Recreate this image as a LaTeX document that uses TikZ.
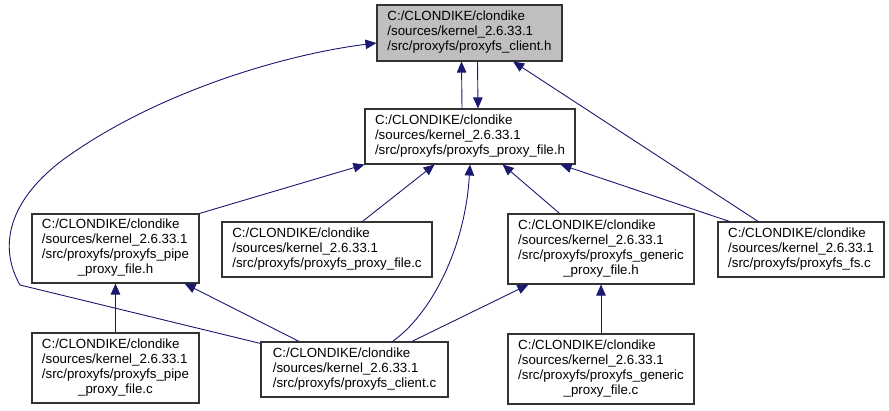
\documentclass[tikz,border=0pt]{standalone}
\usepackage{fontspec}
\setmainfont{Liberation Sans}
\usetikzlibrary{arrows.meta}
\definecolor{edgeblue}{HTML}{191970}
\definecolor{rootgray}{HTML}{BFBFBF}
\newcommand{\kdir}{C:/CLONDIKE/clondike\\/sources/kernel\_2.6.33.1\\/src/proxyfs/}
\newcommand{\lastline}[1]{\\\multicolumn{1}{@{}c@{}}{#1}}

\begin{document}
\begin{tikzpicture}[
  x=1pt, y=-1pt,
  file/.style={rectangle, draw=black!80, line width=1.1pt, fill=white, inner sep=0pt,
    font=\fontsize{13.3}{15}\selectfont},
  root/.style={file, fill=rootgray},
  dep/.style={-{Triangle[length=11pt,width=9.5pt]}, edgeblue, line width=0.9pt},
]
  \useasboundingbox (0,0) rectangle (889,411);

  % headers
  \node[root, minimum width=185pt, minimum height=56pt] (ch) at (469.5,33)
    {\begin{tabular}{@{}l@{}}\kdir proxyfs\_client.h\end{tabular}};
  \node[file, minimum width=210pt, minimum height=55pt] (pfh) at (470,136.5)
    {\begin{tabular}{@{}l@{}}\kdir proxyfs\_proxy\_file.h\end{tabular}};
  \node[file, minimum width=167pt, minimum height=69pt] (pipeh) at (115.5,248.5)
    {\begin{tabular}{@{}l@{}}\kdir proxyfs\_pipe\lastline{\_proxy\_file.h}\end{tabular}};
  \node[file, minimum width=186pt, minimum height=70pt] (genh) at (601,249)
    {\begin{tabular}{@{}l@{}}\kdir proxyfs\_generic\lastline{\_proxy\_file.h}\end{tabular}};

  % sources
  \node[file, minimum width=210pt, minimum height=55pt] (pfc) at (327,249.5)
    {\begin{tabular}{@{}l@{}}\kdir proxyfs\_proxy\_file.c\end{tabular}};
  \node[file, minimum width=166pt, minimum height=55pt] (fsc) at (801,249.5)
    {\begin{tabular}{@{}l@{}}\kdir proxyfs\_fs.c\end{tabular}};
  \node[file, minimum width=167pt, minimum height=70pt] (pipec) at (115.5,368)
    {\begin{tabular}{@{}l@{}}\kdir proxyfs\_pipe\lastline{\_proxy\_file.c}\end{tabular}};
  \node[file, minimum width=187pt, minimum height=55pt] (cc) at (354.5,369.5)
    {\begin{tabular}{@{}l@{}}\kdir proxyfs\_client.c\end{tabular}};
  \node[file, minimum width=186pt, minimum height=70pt] (genc) at (601,369)
    {\begin{tabular}{@{}l@{}}\kdir proxyfs\_generic\lastline{\_proxy\_file.c}\end{tabular}};

  \coordinate (lbend) at (20,285);

  % include edges
  \draw[dep] ([xshift=-8pt]pfh.north) -- ([xshift=-8pt]ch.south);
  \draw[dep] ([xshift=8pt]ch.south) -- ([xshift=8pt]pfh.north);
  \draw[dep] (fsc) -- (ch);
  \draw[dep] ([xshift=12pt]fsc.north west) -- ([xshift=-15pt]pfh.south east);
  \draw[dep] (pipeh.north east) -- (pfh.south west);
  \draw[dep] (pfc) -- (pfh);
  \draw[dep] (genh) -- (pfh);
  \draw[dep] ([xshift=38pt]cc.north) .. controls (430,315) and (465,250) .. (pfh.south);
  \draw[dep] (pipec) -- (pipeh);
  \draw[dep] (genc) -- (genh);
  \draw[dep] (cc) -- (pipeh);
  \draw[dep] (cc) -- (genh);
  \draw[dep] ([yshift=-2pt]cc.north west) -- (lbend)
    .. controls (0,250) and (5,205) .. (60,162)
    .. controls (150,95) and (280,55) .. ([yshift=-10pt]ch.west);
\end{tikzpicture}
\end{document}
